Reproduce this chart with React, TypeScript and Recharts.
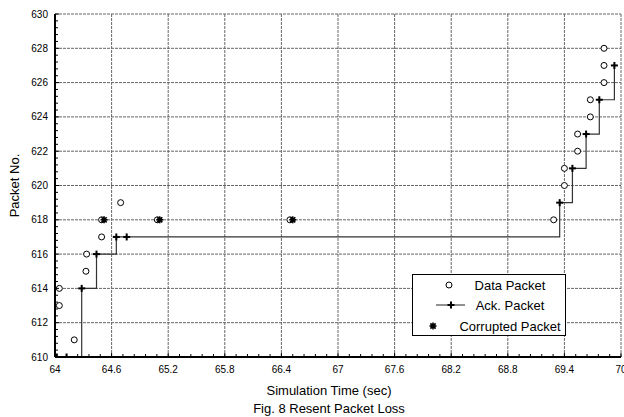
import React from 'react';
import {
  ComposedChart,
  Line,
  Scatter,
  XAxis,
  YAxis,
  CartesianGrid,
  Legend,
} from 'recharts';

// ---- data ----
const xMajorTicks = [64, 64.6, 65.2, 65.8, 66.4, 67, 67.6, 68.2, 68.8, 69.4, 70];
const yMajorTicks = [610, 612, 614, 616, 618, 620, 622, 624, 626, 628, 630];

const dataPackets = [
  { t: 64.046, p: 614 },
  { t: 64.046, p: 613 },
  { t: 64.204, p: 611 },
  { t: 64.328, p: 615 },
  { t: 64.335, p: 616 },
  { t: 64.494, p: 617 },
  { t: 64.494, p: 618 },
  { t: 64.696, p: 619 },
  { t: 65.085, p: 618 },
  { t: 66.49, p: 618 },
  { t: 69.286, p: 618 },
  { t: 69.4, p: 620 },
  { t: 69.4, p: 621 },
  { t: 69.54, p: 622 },
  { t: 69.54, p: 623 },
  { t: 69.675, p: 624 },
  { t: 69.675, p: 625 },
  { t: 69.82, p: 626 },
  { t: 69.82, p: 627 },
  { t: 69.82, p: 628 },
];

const ackPackets = [
  { t: 64.02, p: 610 },
  { t: 64.123, p: 610 },
  { t: 64.283, p: 614 },
  { t: 64.44, p: 616 },
  { t: 64.65, p: 617 },
  { t: 64.76, p: 617 },
  { t: 69.35, p: 619 },
  { t: 69.485, p: 621 },
  { t: 69.63, p: 623 },
  { t: 69.77, p: 625 },
  { t: 69.93, p: 627 },
];

const corruptedPackets = [
  { t: 64.52, p: 618 },
  { t: 65.11, p: 618 },
  { t: 66.52, p: 618 },
];

const seriesNames = ['Data Packet', 'Ack. Packet', 'Corrupted Packet'];
const xTitle = 'Simulation Time (sec)';
const yTitle = 'Packet No.';
const caption = 'Fig. 8 Resent Packet Loss';

// ---- helpers ----
const withMinor = (majors: number[], parts: number) => {
  const out: number[] = [];
  for (let i = 0; i < majors.length - 1; i++) {
    const a = majors[i];
    const b = majors[i + 1];
    for (let j = 0; j < parts; j++) out.push(a + ((b - a) * j) / parts);
  }
  out.push(majors[majors.length - 1]);
  return out;
};
const xAllTicks = withMinor(xMajorTicks, 5);
const yAllTicks = withMinor(yMajorTicks, 5);
const isMajor = (majors: number[], v: number) => majors.some((m) => Math.abs(m - v) < 1e-6);
const majorLabel = (majors: number[], v: number) => {
  const m = majors.find((mm) => Math.abs(mm - v) < 1e-6);
  return m === undefined ? '' : String(m);
};

const FONT = '"Liberation Sans", Arial, Helvetica, sans-serif';

const BottomTick = (props: any) => {
  const { x, y, payload } = props;
  const major = isMajor(xMajorTicks, payload.value);
  return (
    <g>
      <line x1={x} x2={x} y1={y} y2={y - (major ? 4 : 3)} stroke="#000" strokeWidth={1} />
      {major && (
        <text x={x} y={y + 15.5} textAnchor="middle" fontSize={10} fill="#000" fontFamily={FONT}>
          {majorLabel(xMajorTicks, payload.value)}
        </text>
      )}
    </g>
  );
};

const TopTick = (props: any) => {
  const { x, y, payload } = props;
  const major = isMajor(xMajorTicks, payload.value);
  return <line x1={x} x2={x} y1={y} y2={y + (major ? 4 : 3)} stroke="#000" strokeWidth={1} />;
};

const LeftTick = (props: any) => {
  const { x, y, payload } = props;
  const major = isMajor(yMajorTicks, payload.value);
  return (
    <g>
      <line x1={x} x2={x + (major ? 4 : 3)} y1={y} y2={y} stroke="#000" strokeWidth={1} />
      {major && (
        <text x={x - 7} y={y + 3.5} textAnchor="end" fontSize={10} fill="#000" fontFamily={FONT}>
          {majorLabel(yMajorTicks, payload.value)}
        </text>
      )}
    </g>
  );
};

const RightTick = (props: any) => {
  const { x, y, payload } = props;
  const major = isMajor(yMajorTicks, payload.value);
  return <line x1={x} x2={x - (major ? 4 : 3)} y1={y} y2={y} stroke="#000" strokeWidth={1} />;
};

const CircleMark = ({ cx, cy }: { cx: number; cy: number }) => (
  <circle cx={cx} cy={cy} r={3} fill="#fff" stroke="#000" strokeWidth={1} />
);

const CrossMark = ({ cx, cy }: { cx: number; cy: number }) => (
  <g>
    <line x1={cx - 3.5} x2={cx + 3.5} y1={cy} y2={cy} stroke="#000" strokeWidth={2} />
    <line x1={cx} x2={cx} y1={cy - 3.5} y2={cy + 3.5} stroke="#000" strokeWidth={2} />
  </g>
);

const StarMark = ({ cx, cy }: { cx: number; cy: number }) => (
  <g stroke="#000" strokeWidth={1.6}>
    <line x1={cx - 3.5} x2={cx + 3.5} y1={cy} y2={cy} />
    <line x1={cx} x2={cx} y1={cy - 3.5} y2={cy + 3.5} />
    <line x1={cx - 2.6} x2={cx + 2.6} y1={cy - 2.6} y2={cy + 2.6} />
    <line x1={cx - 2.6} x2={cx + 2.6} y1={cy + 2.6} y2={cy - 2.6} />
    <circle cx={cx} cy={cy} r={1.5} fill="#000" />
  </g>
);

const LegendBox = () => (
  <svg width={154} height={62} style={{ display: 'block' }}>
    <rect x={0.5} y={0.5} width={153} height={61} fill="#fff" stroke="#000" strokeWidth={1} />
    <CircleMark cx={37} cy={11} />
    <text x={98} y={15.5} textAnchor="middle" fontSize={13} fontFamily={FONT} fill="#000">
      {seriesNames[0]}
    </text>
    <line x1={24} x2={53} y1={31} y2={31} stroke="#222" strokeWidth={1} />
    <CrossMark cx={39} cy={31} />
    <text x={98} y={35.5} textAnchor="middle" fontSize={13} fontFamily={FONT} fill="#000">
      {seriesNames[1]}
    </text>
    <StarMark cx={21} cy={52} />
    <text x={98} y={56.5} textAnchor="middle" fontSize={13} fontFamily={FONT} fill="#000">
      {seriesNames[2]}
    </text>
  </svg>
);

const XTitles = (props: any) => {
  const vb = props.viewBox || { x: 55, y: 357, width: 566, height: 60 };
  const cx = vb.x + vb.width / 2 - 9;
  return (
    <g>
      <text x={cx} y={vb.y + 38} textAnchor="middle" fontSize={13} fontFamily={FONT} fill="#000">
        {xTitle}
      </text>
      <text x={cx} y={vb.y + 55.5} textAnchor="middle" fontSize={13} fontFamily={FONT} fill="#000">
        {caption}
      </text>
    </g>
  );
};

const YTitle = (props: any) => {
  const vb = props.viewBox || { x: 0, y: 14, width: 55, height: 343 };
  const x = vb.x + 19;
  const y = vb.y + vb.height / 2;
  return (
    <text
      x={x}
      y={y}
      transform={`rotate(-90 ${x} ${y})`}
      textAnchor="middle"
      fontSize={13}
      fontFamily={FONT}
      fill="#000"
    >
      {yTitle}
    </text>
  );
};

export default function App() {
  return (
    <div style={{ position: 'absolute', left: 0, top: 0, width: 624, height: 417, background: '#fff' }}>
      <ComposedChart
        width={624}
        height={417}
        margin={{ top: 14, right: 3, bottom: 0, left: 0 }}
        style={{ fontFamily: FONT }}
      >
        <CartesianGrid
          stroke="#666"
          strokeDasharray="3 1"
          strokeWidth={1}
          horizontalValues={yMajorTicks}
          verticalValues={xMajorTicks}
        />
        <XAxis
          dataKey="t"
          type="number"
          domain={[64, 70]}
          allowDataOverflow
          ticks={xAllTicks}
          interval={0}
          tick={BottomTick}
          tickLine={false}
          tickSize={0}
          tickMargin={0}
          height={60}
          axisLine={{ stroke: '#000', strokeWidth: 2 }}
          label={{ content: XTitles }}
        />
        <XAxis
          xAxisId="top"
          orientation="top"
          dataKey="t"
          type="number"
          domain={[64, 70]}
          allowDataOverflow
          ticks={xAllTicks}
          interval={0}
          tick={TopTick}
          tickLine={false}
          tickSize={0}
          tickMargin={0}
          height={0}
          axisLine={{ stroke: '#000', strokeWidth: 1 }}
        />
        <YAxis
          dataKey="p"
          type="number"
          domain={[610, 630]}
          allowDataOverflow
          ticks={yAllTicks}
          interval={0}
          tick={LeftTick}
          tickLine={false}
          tickSize={0}
          tickMargin={0}
          width={55}
          axisLine={{ stroke: '#000', strokeWidth: 2 }}
          label={{ content: YTitle }}
        />
        <YAxis
          yAxisId="right"
          orientation="right"
          dataKey="p"
          type="number"
          domain={[610, 630]}
          allowDataOverflow
          ticks={yAllTicks}
          interval={0}
          tick={RightTick}
          tickLine={false}
          tickSize={0}
          tickMargin={0}
          width={0}
          axisLine={{ stroke: '#000', strokeWidth: 1 }}
        />
        <Line
          data={ackPackets}
          dataKey="p"
          type="stepAfter"
          stroke="#333"
          strokeWidth={1.2}
          dot={(p: any) => <CrossMark key={`ack-${p.index}`} cx={p.cx} cy={p.cy} />}
          activeDot={false}
          isAnimationActive={false}
          name={seriesNames[1]}
        />
        <Scatter
          data={dataPackets}
          dataKey="p"
          shape={(p: any) => <CircleMark cx={p.cx} cy={p.cy} />}
          isAnimationActive={false}
          name={seriesNames[0]}
        />
        <Scatter
          data={corruptedPackets}
          dataKey="p"
          shape={(p: any) => <StarMark cx={p.cx} cy={p.cy} />}
          isAnimationActive={false}
          name={seriesNames[2]}
        />
        <Legend
          layout="vertical"
          align="center"
          verticalAlign="middle"
          content={() => <LegendBox />}
          wrapperStyle={{ position: 'absolute', left: 412, top: 274, width: 154, height: 62 }}
        />
      </ComposedChart>
    </div>
  );
}
